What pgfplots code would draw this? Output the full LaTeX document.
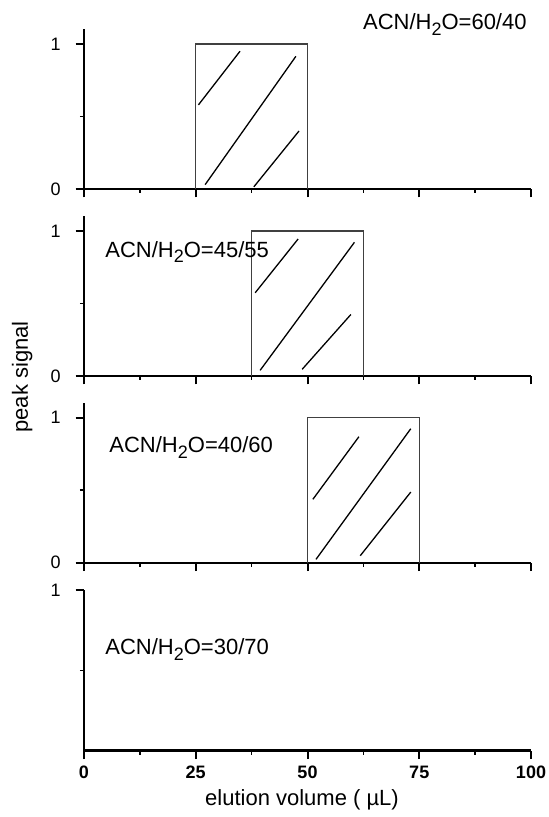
\documentclass[border=0pt]{standalone}
\usepackage{fontspec}
\setmainfont{Liberation Sans}
\usepackage{pgfplots}
\pgfplotsset{compat=1.18}
\pgfplotsset{
  panel/.style={
    width=223.5pt, height=79.75pt, scale only axis,
    xmin=0, xmax=100, ymin=0, ymax=1.1,
    axis x line*=bottom, axis y line*=left,
    axis line style={-, line width=1pt, black},
    xtick={0,25,50,75,100}, minor xtick={12.5,37.5,62.5,87.5},
    ytick={0,1}, minor ytick={0.5},
    tick align=outside,
    major tick length=4.2pt, minor tick length=2pt,
    major tick style={line width=1pt, black},
    minor tick style={line width=0.8pt, black},
    xticklabels={},
    /pgf/number format/assume math mode=true,
    yticklabel style={font=\fontsize{9}{10}\selectfont, xshift=-4pt},
    clip=false,
  },
}
\newcommand{\sub}{\raisebox{-0.5ex}{\fontsize{9}{10}\selectfont 2}}
\tikzset{
  box/.style={black!75, line width=0.55pt},
  hatch/.style={black, line width=0.65pt},
  lab/.style={font=\fontsize{11}{13}\selectfont, inner sep=0pt},
}
\begin{document}
\begin{tikzpicture}
\useasboundingbox (-42pt,-314pt) rectangle (232pt,94.5pt);
% Panel 1
\begin{axis}[panel, at={(0,0)}, anchor=south west]
\addplot[box] coordinates {(25,0) (25,1) (50,1) (50,0)};
\addplot[hatch] coordinates {(25.6,0.58) (34.9,0.95)};
\addplot[hatch] coordinates {(27.1,0.03) (47.4,0.915)};
\addplot[hatch] coordinates {(38.0,0.015) (48.1,0.40)};
\node[lab, anchor=base east] at (axis cs:99.1,1.097) {ACN/H\sub O=60/40};
\end{axis}
% Panel 2
\begin{axis}[panel, at={(0,-93.5pt)}, anchor=south west]
\addplot[box] coordinates {(37.5,0) (37.5,1) (62.5,1) (62.5,0)};
\addplot[hatch] coordinates {(38.3,0.574) (47.9,0.945)};
\addplot[hatch] coordinates {(39.4,0.039) (60.5,0.922)};
\addplot[hatch] coordinates {(48.8,0.046) (59.7,0.424)};
\node[lab, anchor=base west] at (axis cs:4.7,0.82) {ACN/H\sub O=45/55};
\end{axis}
% Panel 3
\begin{axis}[panel, at={(0,-186.85pt)}, anchor=south west]
\addplot[box] coordinates {(50,0) (50,1) (75,1) (75,0)};
\addplot[hatch] coordinates {(51.2,0.437) (61.5,0.869)};
\addplot[hatch] coordinates {(51.9,0.023) (73.1,0.924)};
\addplot[hatch] coordinates {(61.8,0.048) (73.1,0.487)};
\node[lab, anchor=base west] at (axis cs:5.6,0.757) {ACN/H\sub O=40/60};
\end{axis}
% Panel 4
\begin{axis}[panel, at={(0,-280.9pt)}, anchor=south west, height=80.35pt, ymax=1,
  ytick={1}, 
  xticklabels={0,25,50,75,100},
  xticklabel style={font=\bfseries\fontsize{9}{10}\selectfont}]
\addplot[black, line width=1.4pt] coordinates {(0,0) (100,0)};
\node[lab, anchor=base west] at (axis cs:4.7,0.6) {ACN/H\sub O=30/70};
\end{axis}
\node[rotate=90, anchor=base, font=\fontsize{11}{13}\selectfont, inner sep=0pt] at (-28pt,-94pt) {peak signal};
\node[anchor=base, font=\fontsize{11}{13}\selectfont, inner sep=0pt] at (109pt,-308pt) {elution volume ( µL)};
\end{tikzpicture}
\end{document}
